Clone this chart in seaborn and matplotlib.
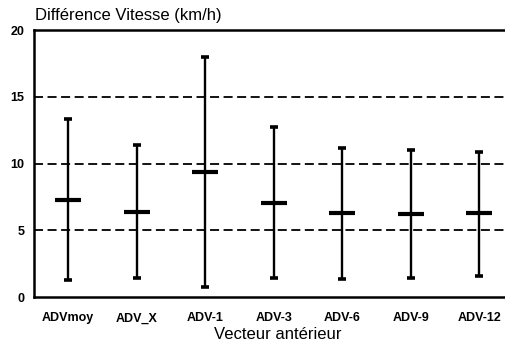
import matplotlib
matplotlib.use("Agg")
import matplotlib.pyplot as plt
import seaborn as sns
import pandas as pd

# Speed difference per anterior vector: minimum, mean, maximum (km/h)
categories = ["ADVmoy", "ADV_X", "ADV-1", "ADV-3", "ADV-6", "ADV-9", "ADV-12"]
mins = [1.27, 1.4, 0.75, 1.42, 1.35, 1.42, 1.6]
means = [7.25, 6.36, 9.35, 7.03, 6.28, 6.25, 6.28]
maxs = [13.3, 11.4, 17.95, 12.7, 11.2, 11.0, 10.9]
yticks = [0, 5, 10, 15, 20]

df = pd.DataFrame({"vecteur": categories, "min": mins, "moy": means, "max": maxs})
df["pos"] = range(len(df))

sns.set_theme(style="white")
plt.rcParams["font.family"] = ["Liberation Sans", "DejaVu Sans"]

fig = plt.figure(figsize=(5.05, 3.45), dpi=100)
ax = fig.add_axes([0.0673, 0.139, 0.94, 0.774])

# dashed reference lines
for v in yticks[1:-1]:
    ax.axhline(v, color="black", lw=1.3, dashes=(5, 2.5), zorder=1)

# range bars
ax.vlines(df["pos"], df["min"], df["max"], color="black", lw=1.7, zorder=2)

# caps at min and max
caps = pd.concat([df[["pos", "min"]].rename(columns={"min": "v"}),
                  df[["pos", "max"]].rename(columns={"max": "v"})])
sns.scatterplot(data=caps, x="pos", y="v", marker="_", s=30, color="black",
                linewidth=2.6, ax=ax, zorder=3, legend=False)

# mean markers
sns.scatterplot(data=df, x="pos", y="moy", marker="_", s=350, color="black",
                linewidth=3.0, ax=ax, zorder=3, legend=False)

ax.set_xlim(-0.5, 6.43)
ax.set_ylim(0, 20)
ax.set_yticks(yticks)
ax.set_xticks(df["pos"])
ax.set_xticklabels(categories)
ax.tick_params(axis="both", labelsize=9, length=3, width=1.2, color="black",
               direction="out", pad=4, labelcolor="black")
ax.tick_params(axis="x", pad=8)
for lab in ax.get_xticklabels() + ax.get_yticklabels():
    lab.set_fontweight("bold")

for side in ["left", "bottom", "top"]:
    ax.spines[side].set_visible(True)
    ax.spines[side].set_color("black")
    ax.spines[side].set_linewidth(1.8)
ax.spines["right"].set_visible(False)

ax.set_xlabel("Vecteur antérieur", fontsize=12, color="black")
ax.xaxis.set_label_coords(0.514, -0.112)
ax.set_ylabel("")
fig.text(0.069, 0.954, "Différence Vitesse (km/h)", fontsize=12, color="black",
         va="center", ha="left")

fig.savefig("out.png", dpi=100)
